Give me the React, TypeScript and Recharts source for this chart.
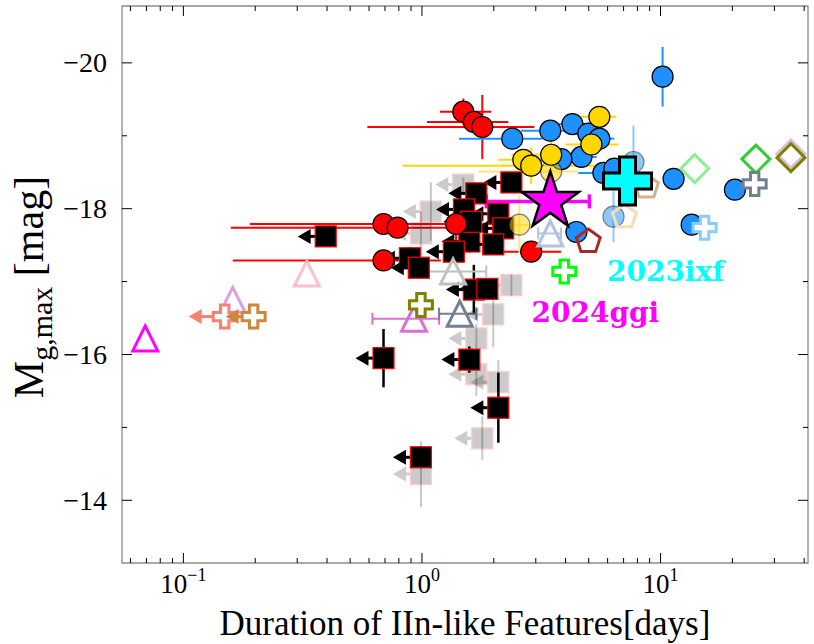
import React from 'react';
import { ScatterChart, Scatter, XAxis, YAxis, ErrorBar, ReferenceArea } from 'recharts';

// ---- axes ----
const X_DOMAIN: [number, number] = [0.0553, 41.5];
const Y_DOMAIN: [number, number] = [-20.78, -13.14];
const X_TICKS = [0.06, 0.07, 0.08, 0.09, 0.1, 0.2, 0.3, 0.4, 0.5, 0.6, 0.7, 0.8, 0.9, 1, 2, 3, 4, 5, 6, 7, 8, 9, 10, 20, 30, 40];
const X_MAJOR = [0.1, 1, 10];
const X_EXP = ['−1', '0', '1'];
const Y_TICKS = [-20, -19, -18, -17, -16, -15, -14];
const Y_MAJOR = [-20, -18, -16, -14];

// ---- red circles ----
const redDur = [1.49, 1.65, 1.79, 0.69, 0.79, 0.69, 1.39, 2.87];
const redMag = [-19.33, -19.19, -19.12, -17.79, -17.74, -17.29, -17.79, -17.41];
const redDurLo = [1.19, 1.05, 0.59, 0.19, 0.158, 0.161, 0.82, 1.95];
const redDurHi = [1.95, 2.3, 2.96, 1.46, 1.77, 1.2, 2.15, 3.83];
const redMagErr = [0.18, 0.12, 0.44, 0.15, 0.1, 0.12, 0.25, 0.1];

// ---- blue circles ----
const blueDur = [10.2, 2.39, 3.45, 4.27, 4.98, 5.54, 4.66, 3.84, 5.76, 6.41, 11.34, 20.5, 13.5, 4.44];
const blueMag = [-19.81, -18.96, -19.07, -19.16, -19.03, -18.96, -18.71, -18.68, -18.49, -18.55, -18.41, -18.26, -17.78, -17.68];
const blueDurLo = [10.2, 1.43, 2.6, 3.7, 4.4, 4.8, 4.0, 3.3, 4.52, 5.8, 10.5, 19.5, 13.0, 4.2];
const blueDurHi = [10.2, 3.2, 4.4, 5.0, 5.6, 6.4, 5.4, 4.4, 6.8, 7.0, 12.2, 21.5, 14.0, 4.7];
const blueMagErr = [0.41, 0.05, 0.1, 0.1, 0.05, 0.05, 0.05, 0.05, 0.05, 0.05, 0.05, 0.08, 0.1, 0.05];
const blueFaintDur = [7.7, 6.35];
const blueFaintMag = [-18.64, -17.89];
const blueFaintMagErr = [0.5, 0.35];

// ---- gold circles ----
const goldDur = [5.54, 5.13, 3.48, 2.66, 2.87];
const goldMag = [-19.26, -18.88, -18.74, -18.67, -18.59];
const goldDurLo = [4.57, 4.0, 2.37, 2.09, 0.83];
const goldDurHi = [6.53, 6.65, 4.52, 3.84, 5.64];
const goldMagErr = [0.1, 0.1, 0.35, 0.1, 0.25];
const goldFaintDur = [3.48, 2.56];
const goldFaintMag = [-18.51, -17.78];
const goldFaintDurLo = [1.72, 1.32];
const goldFaintDurHi = [4.52, 2.87];
const goldFaintMagErr = [0.3, 0.4];

// ---- upper limits (squares) ----
const limDur = [2.37, 1.69, 1.5, 2.09, 2.19, 1.58, 1.99, 1.36, 0.89, 0.97, 1.65, 1.88, 0.395, 0.69, 1.58, 2.09, 0.99, 1.61];
const limMag = [-18.36, -18.21, -17.99, -17.93, -17.73, -17.55, -17.51, -17.41, -17.32, -17.19, -16.89, -16.9, -17.62, -15.95, -15.93, -15.27, -14.59, -17.82];
const limMagErr = [0.1, 0.1, 0.1, 0.1, 0.1, 0.15, 0.1, 0.1, 0.15, 0.1, 0.34, 0.1, 0.05, 0.4, 0.18, 0.48, 0.15, 0.1];
const limFaintDur = [1.49, 1.09, 0.99, 2.37, 1.99, 1.69, 2.09, 1.79, 0.99, 1.69];
const limFaintMag = [-18.33, -17.96, -17.66, -16.95, -16.55, -16.22, -15.62, -14.85, -14.36, -15.73];
const limFaintMagErr = [0.1, 0.4, 0.3, 0.15, 0.45, 0.2, 0.3, 0.3, 0.45, 0.3];

// ---- individual objects ----
const triDur = [0.0692, 0.161, 0.329, 0.926, 1.35, 1.44, 3.45];
const triMag = [-16.22, -16.75, -17.11, -16.49, -17.14, -16.56, -17.66];
const triDurLo = [0.0692, 0.161, 0.329, 0.62, 0.89, 1.18, 3.07];
const triDurHi = [0.0692, 0.161, 0.329, 1.18, 1.86, 1.69, 3.83];
const plusDur = [0.149, 0.197, 0.99, 3.95, 15.3, 24.8];
const plusMag = [-16.52, -16.52, -16.68, -17.14, -17.74, -18.34];
const diaDur = [13.9, 25.1, 35.2, 35.2];
const diaMag = [-18.55, -18.68, -18.75, -18.7];
const pentDur = [4.98, 8.73, 7.06];
const pentMag = [-17.55, -18.3, -17.89];
const ggiDur = [3.45];
const ggiMag = [-18.1];
const ggiDurLo = [1.86];
const ggiDurHi = [5.03];
const ixfDur = [7.27];
const ixfMag = [-18.38];
const labelDur = [10.5, 5.33];
const labelMag = [-17.14, -16.58];
const labelText = ['2023ixf', '2024ggi'];

// ---- styles ----
const TRI_COLORS = ['#ff00ff', '#dda0dd', '#ffc0cb', '#da70d6', '#c0c0c0', '#708090', '#b0c4de'];
const PLUS_COLORS = ['#fa8072', '#cd853f', '#808000', '#00ff00', '#87cefa', '#708090'];
const PLUS_ARROW = [36, 28, 0, 0, 0, 0];
const DIA_COLORS = ['#90ee90', '#32cd32', '#d8bfd8', '#808000'];
const PENT_COLORS = ['#a52a2a', '#d2b48c', '#f5deb3'];
const LABEL_COLORS = ['#00ffff', '#ff00ff'];

const PLOT = { top: 6, right: 808, bottom: 563, left: 122 };
const SERIF = 'Liberation Serif, DejaVu Serif, serif';

type Row = { x: number; y: number; xe: [number, number]; ye: number };

function rows(dur: number[], mag: number[], lo?: number[], hi?: number[], err?: number[]): Row[] {
  return dur.map((d, i) => ({
    x: d,
    y: mag[i],
    xe: [lo ? d - lo[i] : 0, hi ? hi[i] - d : 0],
    ye: err ? err[i] : 0,
  }));
}

const circle = (fill: string, opacity = 1) => (p: any) => (
  <circle cx={p.cx} cy={p.cy} r={10.5} fill={fill} stroke="#000" strokeWidth={1.2} opacity={opacity} />
);

const leftArrow = (cx: number, cy: number, len: number, color: string) => (
  <g>
    <line x1={cx} y1={cy} x2={cx - len + 12} y2={cy} stroke={color} strokeWidth={3} />
    <polygon points={`${cx - len},${cy} ${cx - len + 13},${cy - 7.5} ${cx - len + 13},${cy + 7.5}`} fill={color} />
  </g>
);

const limSquare = (opacity: number) => (p: any) => (
  <g opacity={opacity}>
    {leftArrow(p.cx, p.cy, 28, '#000')}
    <rect x={p.cx - 10.5} y={p.cy - 10.5} width={21} height={21} fill="#000" stroke="#ff0000" strokeWidth={1.2} />
  </g>
);

const triangle = (color: string) => (p: any) => (
  <polygon
    points={`${p.cx},${p.cy - 12.5} ${p.cx - 12.5},${p.cy + 12.5} ${p.cx + 12.5},${p.cy + 12.5}`}
    fill="none" stroke={color} strokeWidth={3}
  />
);

function plusPath(cx: number, cy: number, a: number, b: number) {
  return `M${cx - b},${cy - a} H${cx + b} V${cy - b} H${cx + a} V${cy + b} H${cx + b} V${cy + a} H${cx - b} V${cy + b} H${cx - a} V${cy - b} H${cx - b} Z`;
}

const openPlus = (color: string, arrow: number) => (p: any) => (
  <g>
    {arrow > 0 && leftArrow(p.cx, p.cy, arrow, color)}
    <path d={plusPath(p.cx, p.cy, 11.5, 4.2)} fill="#fff" stroke={color} strokeWidth={3} />
  </g>
);

const diamond = (color: string) => (p: any) => (
  <polygon
    points={`${p.cx},${p.cy - 14} ${p.cx + 14},${p.cy} ${p.cx},${p.cy + 14} ${p.cx - 14},${p.cy}`}
    fill="none" stroke={color} strokeWidth={3}
  />
);

const pentagon = (color: string) => (p: any) => {
  const pts = [0, 1, 2, 3, 4]
    .map((k) => {
      const a = ((-90 + 72 * k) * Math.PI) / 180;
      return `${p.cx + 12.5 * Math.cos(a)},${p.cy + 12.5 * Math.sin(a)}`;
    })
    .join(' ');
  return <polygon points={pts} fill="none" stroke={color} strokeWidth={3} />;
};

const star = (p: any) => {
  const pts = [];
  for (let k = 0; k < 10; k++) {
    const r = k % 2 === 0 ? 30 : 11.5;
    const a = ((-90 + 36 * k) * Math.PI) / 180;
    pts.push(`${p.cx + r * Math.cos(a)},${p.cy + r * Math.sin(a)}`);
  }
  return <polygon points={pts.join(' ')} fill="#ff00ff" stroke="#000" strokeWidth={2.5} strokeLinejoin="miter" />;
};

const bigPlus = (p: any) => (
  <path d={plusPath(p.cx, p.cy, 24, 8)} fill="#00ffff" stroke="#000" strokeWidth={3} />
);

const label = (text: string, color: string) => (p: any) => (
  <text x={p.cx} y={p.cy} textAnchor="middle" dominantBaseline="central" fill={color}
    style={{ fontFamily: 'DejaVu Serif', fontWeight: 'bold', fontSize: 28 }}>
    {text}
  </text>
);

const XTick = (props: any) => {
  const { x, y, payload } = props;
  const i = X_MAJOR.indexOf(payload.value);
  const len = i >= 0 ? 10 : 5;
  return (
    <g>
      <line x1={x} x2={x} y1={y} y2={y - len} stroke="#000" strokeWidth={1} />
      <line x1={x} x2={x} y1={PLOT.top} y2={PLOT.top + len} stroke="#000" strokeWidth={1} />
      {i >= 0 && (
        <text x={x} y={y + 30} textAnchor="middle" fill="#000" style={{ fontFamily: SERIF, fontSize: 27 }}>
          10<tspan dy={-12} style={{ fontSize: 18 }}>{X_EXP[i]}</tspan>
        </text>
      )}
    </g>
  );
};

const YTick = (props: any) => {
  const { x, y, payload } = props;
  const major = Y_MAJOR.includes(payload.value);
  const len = major ? 10 : 5;
  return (
    <g>
      <line x1={x} x2={x + len} y1={y} y2={y} stroke="#000" strokeWidth={1} />
      <line x1={PLOT.right - len} x2={PLOT.right} y1={y} y2={y} stroke="#000" strokeWidth={1} />
      {major && (
        <text x={x - 15} y={y} textAnchor="end" dominantBaseline="central" fill="#000"
          style={{ fontFamily: SERIF, fontSize: 28 }}>
          {'−' + Math.abs(payload.value)}
        </text>
      )}
    </g>
  );
};

const xLabel = () => (
  <text x={465} y={635} textAnchor="middle" fill="#000" style={{ fontFamily: SERIF, fontSize: 35 }}>
    Duration of IIn-like Features[days]
  </text>
);

const yLabel = () => (
  <text transform="translate(43, 287) rotate(-90)" textAnchor="middle" fill="#000"
    style={{ fontFamily: SERIF, fontSize: 42 }}>
    M<tspan dy={9} style={{ fontSize: 30 }}>g,max</tspan>
    <tspan dy={-9}> [mag]</tspan>
  </text>
);

export default function App() {
  const red = rows(redDur, redMag, redDurLo, redDurHi, redMagErr);
  const blue = rows(blueDur, blueMag, blueDurLo, blueDurHi, blueMagErr);
  const blueFaint = rows(blueFaintDur, blueFaintMag, undefined, undefined, blueFaintMagErr);
  const gold = rows(goldDur, goldMag, goldDurLo, goldDurHi, goldMagErr);
  const goldFaint = rows(goldFaintDur, goldFaintMag, goldFaintDurLo, goldFaintDurHi, goldFaintMagErr);
  const lim = rows(limDur, limMag, undefined, undefined, limMagErr);
  const limFaint = rows(limFaintDur, limFaintMag, undefined, undefined, limFaintMagErr);
  const tri = rows(triDur, triMag, triDurLo, triDurHi);
  const plus = rows(plusDur, plusMag);
  const dia = rows(diaDur, diaMag);
  const pent = rows(pentDur, pentMag);
  const ggi = rows(ggiDur, ggiMag, ggiDurLo, ggiDurHi);
  const ixf = rows(ixfDur, ixfMag);
  const labels = rows(labelDur, labelMag);

  return (
    <div style={{ position: 'absolute', left: 0, top: 0, background: '#fff' }}>
      <ScatterChart width={814} height={644} margin={{ top: 6, right: 6, bottom: 0, left: 0 }}>
        <XAxis
          dataKey="x" type="number" scale="log" domain={X_DOMAIN} allowDataOverflow
          ticks={X_TICKS} interval={0} tick={XTick} tickLine={false} tickSize={0} tickMargin={0}
          axisLine={false} height={81} label={xLabel}
        />
        <YAxis
          dataKey="y" type="number" domain={Y_DOMAIN} reversed allowDataOverflow
          ticks={Y_TICKS} interval={0} tick={YTick} tickLine={false} tickSize={0} tickMargin={0}
          axisLine={false} width={122} label={yLabel}
        />
        <ReferenceArea x1={X_DOMAIN[0]} x2={X_DOMAIN[1]} y1={Y_DOMAIN[0]} y2={Y_DOMAIN[1]}
          fill="none" stroke="#8c8c8c" strokeWidth={1.3} fillOpacity={0} ifOverflow="visible" />

        <Scatter data={limFaint} shape={limSquare(0.2)} isAnimationActive={false}>
          <ErrorBar dataKey="ye" direction="y" stroke="#c8c8c8" strokeWidth={2} width={0} />
        </Scatter>
        <Scatter data={lim} shape={limSquare(1)} isAnimationActive={false}>
          <ErrorBar dataKey="ye" direction="y" stroke="#000" strokeWidth={2.5} width={0} />
        </Scatter>
        <Scatter data={red} shape={circle('#ff0000')} isAnimationActive={false}>
          <ErrorBar dataKey="xe" direction="x" stroke="#ff0000" strokeWidth={2} width={0} />
          <ErrorBar dataKey="ye" direction="y" stroke="#ff0000" strokeWidth={2} width={0} />
        </Scatter>
        <Scatter data={blueFaint} shape={circle('#1e90ff', 0.5)} isAnimationActive={false}>
          <ErrorBar dataKey="ye" direction="y" stroke="#8ec7ff" strokeWidth={2} width={0} />
        </Scatter>
        <Scatter data={blue} shape={circle('#1e90ff')} isAnimationActive={false}>
          <ErrorBar dataKey="xe" direction="x" stroke="#1e90ff" strokeWidth={2} width={0} />
          <ErrorBar dataKey="ye" direction="y" stroke="#1e90ff" strokeWidth={2} width={0} />
        </Scatter>
        <Scatter data={goldFaint} shape={circle('#ffd700', 0.5)} isAnimationActive={false}>
          <ErrorBar dataKey="xe" direction="x" stroke="#ffe873" strokeWidth={2} width={0} />
          <ErrorBar dataKey="ye" direction="y" stroke="#ffe873" strokeWidth={2} width={0} />
        </Scatter>
        <Scatter data={gold} shape={circle('#ffd700')} isAnimationActive={false}>
          <ErrorBar dataKey="xe" direction="x" stroke="#ffd700" strokeWidth={2} width={0} />
          <ErrorBar dataKey="ye" direction="y" stroke="#ffd700" strokeWidth={2} width={0} />
        </Scatter>

        {tri.map((r, i) => (
          <Scatter key={'tri' + i} data={[r]} shape={triangle(TRI_COLORS[i])} isAnimationActive={false}>
            {r.xe[0] + r.xe[1] > 0 && (
              <ErrorBar dataKey="xe" direction="x" stroke={TRI_COLORS[i]} strokeWidth={2} width={6} />
            )}
          </Scatter>
        ))}
        {pent.map((r, i) => (
          <Scatter key={'pent' + i} data={[r]} shape={pentagon(PENT_COLORS[i])} isAnimationActive={false} />
        ))}
        {dia.map((r, i) => (
          <Scatter key={'dia' + i} data={[r]} shape={diamond(DIA_COLORS[i])} isAnimationActive={false} />
        ))}
        {plus.map((r, i) => (
          <Scatter key={'plus' + i} data={[r]} shape={openPlus(PLUS_COLORS[i], PLUS_ARROW[i])} isAnimationActive={false} />
        ))}

        <Scatter data={ggi} shape={star} isAnimationActive={false}>
          <ErrorBar dataKey="xe" direction="x" stroke="#ff00ff" strokeWidth={3.5} width={7} />
        </Scatter>
        <Scatter data={ixf} shape={bigPlus} isAnimationActive={false} />

        {labels.map((r, i) => (
          <Scatter key={'lab' + i} data={[r]} shape={label(labelText[i], LABEL_COLORS[i])} isAnimationActive={false} />
        ))}
      </ScatterChart>
    </div>
  );
}
